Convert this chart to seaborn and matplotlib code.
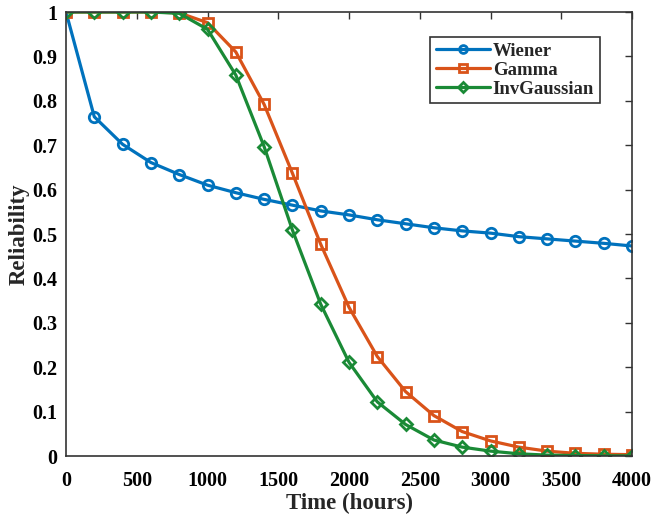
import numpy as np
import pandas as pd
import matplotlib
matplotlib.use("Agg")
import matplotlib.pyplot as plt
import seaborn as sns

# Reliability curves of three degradation models
hours = [0, 200, 400, 600, 800, 1000, 1200, 1400, 1600, 1800, 2000,
         2200, 2400, 2600, 2800, 3000, 3200, 3400, 3600, 3800, 4000]
wiener = [1.0, 0.764, 0.702, 0.661, 0.634, 0.610, 0.593, 0.578, 0.565, 0.552, 0.543,
          0.532, 0.523, 0.514, 0.507, 0.502, 0.494, 0.489, 0.484, 0.479, 0.473]
gamma = [1.0, 1.0, 1.0, 1.0, 0.998, 0.976, 0.910, 0.792, 0.637, 0.477, 0.335,
         0.224, 0.145, 0.091, 0.055, 0.034, 0.020, 0.011, 0.006, 0.004, 0.003]
invgauss = [1.0, 1.0, 1.0, 1.0, 0.997, 0.961, 0.858, 0.697, 0.509, 0.342, 0.211,
            0.122, 0.071, 0.036, 0.020, 0.011, 0.005, 0.002, 0.001, 0.0005, 0.0002]

series_names = ["Wiener", "Gamma", "InvGaussian"]
colors = {"Wiener": "#0072BD", "Gamma": "#D95319", "InvGaussian": "#1A8A36"}
markers = {"Wiener": "o", "Gamma": "s", "InvGaussian": "D"}
msizes = {"Wiener": 7.5, "Gamma": 6.8, "InvGaussian": 6.3}

df = pd.DataFrame({
    "Time": hours * 3,
    "Reliability": wiener + gamma + invgauss,
    "Model": sum([[n] * len(hours) for n in series_names], []),
})

sns.set_theme(style="white")
plt.rcParams["font.family"] = ["Liberation Serif", "DejaVu Serif"]
plt.rcParams["font.weight"] = "bold"

fig = plt.figure(figsize=(6.53, 5.19), dpi=100)
ax = fig.add_axes([66 / 653, 1 - 456 / 519, (632 - 66) / 653, (456 - 12) / 519])

for name in series_names:
    sub = df[df["Model"] == name]
    sns.lineplot(data=sub, x="Time", y="Reliability", ax=ax, color=colors[name],
                 marker=markers[name], markersize=msizes[name],
                 markerfacecolor="none", markeredgecolor=colors[name],
                 markeredgewidth=2.0, linewidth=2.3, label=name)

ax.set_xlim(0, 4000)
ax.set_ylim(0, 1)
ax.set_xticks(np.arange(0, 4001, 500))
ax.set_yticks(np.round(np.arange(0, 1.01, 0.1), 1))
ax.set_yticklabels(["0", "0.1", "0.2", "0.3", "0.4", "0.5", "0.6", "0.7", "0.8", "0.9", "1"])
ax.tick_params(axis="both", direction="in", length=5, width=1, top=True, right=True,
               labelsize=14.5, colors="#333333", labelcolor="black")
ax.tick_params(axis="x", pad=11)
ax.tick_params(axis="y", pad=6)
for lab in ax.get_xticklabels() + ax.get_yticklabels():
    lab.set_fontweight("bold")
for sp in ax.spines.values():
    sp.set_color("#333333")
    sp.set_linewidth(1.2)

ax.set_xlabel("Time (hours)", fontsize=16.5, fontweight="bold", labelpad=1)
ax.set_ylabel("Reliability", fontsize=16.5, fontweight="bold", labelpad=2)

leg = ax.legend(loc="upper right", bbox_to_anchor=(0.943, 0.944), fontsize=13.5,
                frameon=True, fancybox=False, edgecolor="black", handlelength=2.9,
                handletextpad=0.15, borderpad=0.3, labelspacing=0.1, borderaxespad=0,
                markerscale=0.75)
leg.get_frame().set_linewidth(1.2)
for t in leg.get_texts():
    t.set_fontweight("bold")

fig.savefig("out.png", dpi=100)
